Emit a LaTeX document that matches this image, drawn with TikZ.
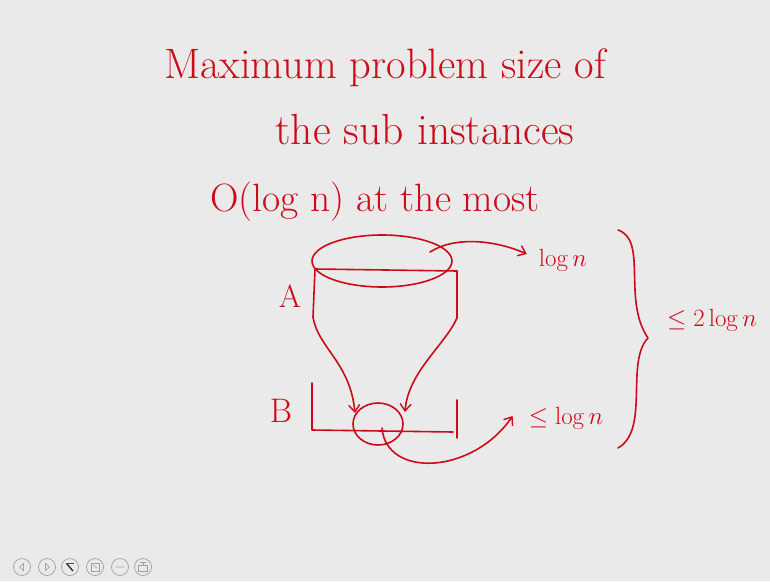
\documentclass[tikz,border=0pt]{standalone}
\usetikzlibrary{arrows.meta,shapes.geometric}
\definecolor{inkred}{RGB}{204,10,24}
\definecolor{bgcol}{RGB}{234,234,234}
\definecolor{icongray}{RGB}{160,160,160}
\begin{document}
\begin{tikzpicture}[x=1pt,y=-1pt,
  ink/.style={draw=inkred,line width=1.6pt,line cap=round,line join=round},
  hw/.style={text=inkred,inner sep=0pt},
  tipped/.style={-{Straight Barb[length=7pt,width=11pt,line width=1.4pt]}},
  icon/.style={draw=icongray,line width=0.7pt,circle,minimum size=17pt,inner sep=0pt}]
\fill[bgcol] (0,0) rectangle (770,581);
\useasboundingbox (0,0) rectangle (770,581);
% title text
\node[hw,font=\fontsize{42.5}{46}\selectfont] (t1) at (385,68) {Maximum problem size of};
\node[hw,font=\fontsize{43.5}{46}\selectfont] (t2) at (425,130) {the sub instances};
\node[hw,font=\fontsize{39.5}{46}\selectfont] (t3) at (375,202) {O(log n) at the most};
% top ellipse and funnel
\node[ink,ellipse,minimum width=140pt,minimum height=52pt,inner sep=0pt] (E1) at (382,261) {};
\coordinate (tl) at (315,269);
\coordinate (tr) at (457,271);
\coordinate (bl) at (313,317);
\coordinate (br) at (457,318);
\draw[ink] (tl) -- (tr);
\draw[ink] (tl) -- (bl);
\draw[ink] (tr) -- (br);
% small ellipse
\node[ink,ellipse,minimum width=50pt,minimum height=42pt,inner sep=0pt] (E2) at (378,424) {};
\coordinate (la) at (355,413);
\coordinate (ra) at (405,412);
\draw[ink,tipped] (bl) .. controls (318,348) and (350,362) .. (la);
\draw[ink,tipped] (br) .. controls (445,345) and (408,372) .. (ra);
% B bracket
\coordinate (Btop) at (312,383);
\coordinate (Bcorner) at (312,430);
\coordinate (Bend) at (453,432);
\coordinate (Tt) at (457,400);
\coordinate (Tb) at (457,438);
\draw[ink] (Btop) -- (Bcorner) -- (Bend);
\draw[ink] (Tt) -- (Tb);
% labels
\node[hw,font=\fontsize{30}{32}\selectfont] (L1) at (563,260) {$\log n$};
\node[hw,font=\fontsize{27}{30}\selectfont] (L2) at (566,418) {$\leq \log n$};
\node[hw,font=\fontsize{32}{34}\selectfont] (A) at (290,296) {A};
\node[hw,font=\fontsize{34}{36}\selectfont] (B) at (281,411) {B};
\node[hw,font=\fontsize{27}{30}\selectfont] (L3) at (712,320) {$\leq 2\log n$};
% arrows to labels
\coordinate (s1) at (430,252);
\coordinate (s2) at (382,428);
\draw[ink,tipped] (s1) .. controls (455,236) and (495,240) .. ([xshift=-12pt,yshift=6pt]L1.west);
\draw[ink,tipped] (s2) .. controls (386,478) and (472,475) .. ([xshift=-16pt,yshift=2pt]L2.west);
% brace
\coordinate (br1) at (618,230);
\coordinate (brm) at (648,338);
\coordinate (br2) at (618,448);
\draw[ink] (br1) .. controls (648,240) and (622,300) .. (brm)
               .. controls (625,362) and (650,430) .. (br2);
% toolbar icons
\node[icon] (i1) at (22,567) {};
\node[icon] (i2) at (47,567) {};
\node[icon] (i3) at (70,567) {};
\node[icon] (i4) at (95,567) {};
\node[icon] (i5) at (120,567) {};
\node[icon] (i6) at (143,567) {};
\draw[icongray,line width=0.6pt] ([xshift=-2.5pt]i1.center) -- ++(4,-3.5) -- ++(0,7) -- cycle;
\draw[icongray,line width=0.6pt] ([xshift=2.5pt]i2.center) -- ++(-4,-3.5) -- ++(0,7) -- cycle;
\draw[black!80,line width=1.4pt] ([xshift=-3pt,yshift=3pt]i3.center) -- ([xshift=3pt,yshift=-4pt]i3.center);
\draw[black!70,line width=0.6pt] ([xshift=-4pt,yshift=4pt]i3.center) -- ([xshift=4pt,yshift=4pt]i3.center);
\draw[icongray,line width=0.6pt] ([xshift=-4pt,yshift=-4pt]i4.center) rectangle ([xshift=4pt,yshift=4pt]i4.center);
\draw[icongray,line width=0.6pt] ([xshift=-2pt,yshift=2pt]i4.center) -- ([xshift=2pt,yshift=-1pt]i4.center);
\foreach \dx in {-3,0,3} \fill[icongray] ([xshift=\dx pt]i5.center) circle (0.9pt);
\draw[icongray,line width=0.6pt] ([xshift=-4.5pt,yshift=-4pt]i6.center) rectangle ([xshift=4.5pt,yshift=2pt]i6.center);
\draw[icongray,line width=0.6pt] ([yshift=2pt]i6.center) -- ([yshift=4.5pt]i6.center) ([xshift=-3pt,yshift=4.5pt]i6.center) -- ([xshift=3pt,yshift=4.5pt]i6.center);
\end{tikzpicture}
\end{document}
